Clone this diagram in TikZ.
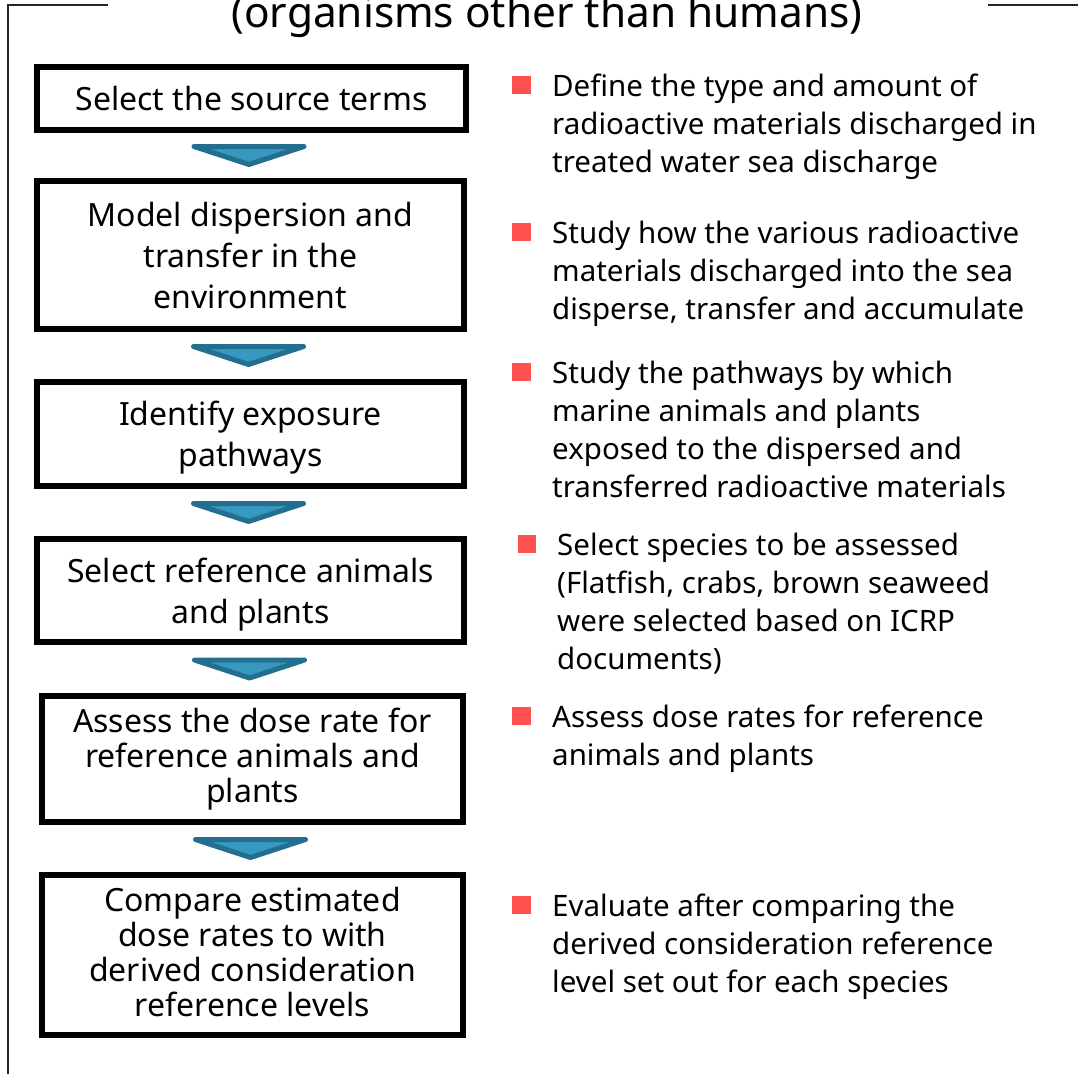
\documentclass[tikz,border=0pt]{standalone}
\usepackage{fontspec}
\setmainfont{Noto Sans}
\usetikzlibrary{calc}
\definecolor{chevfill}{RGB}{55,152,192}
\definecolor{chevline}{RGB}{36,110,143}
\definecolor{bulletred}{RGB}{255,80,80}
\begin{document}
\begin{tikzpicture}[x=1pt,y=-1pt,
  stepbox/.style={draw=black, line width=6.5pt, inner sep=0pt},
  boxtext/.style={inner sep=0pt, align=center, font=\fontsize{32}{41}\selectfont},
  tighttext/.style={boxtext, font=\fontsize{32}{35}\selectfont},
  desc/.style={anchor=base west, inner sep=0pt, font=\fontsize{29.5}{38}\selectfont},
  bullet/.style={fill=bulletred, draw=none, minimum size=18.5pt, inner sep=0pt},
  chev/.style={draw=chevline, fill=chevfill, line width=5pt, line join=round},
  frame/.style={draw=black!85, line width=1.8pt},
  titletext/.style={anchor=base, inner sep=0pt, font=\fontsize{42.4}{50}\selectfont}]
\useasboundingbox (0,0) rectangle (1078,1073);

% frame
\coordinate (fa) at (108,5);
\coordinate (fb) at (8,5);
\coordinate (fc) at (8,1080);
\coordinate (fd) at (988,5);
\coordinate (fe) at (1085,5);
\draw[frame] (fa) -- (fb) -- (fc);
\draw[frame] (fd) -- (fe);

\node[titletext] (title) at (547,28) {(organisms other than humans)};

% boxes
\node[stepbox, minimum width=429pt, minimum height=63pt] (b1) at (251.5,98.5) {};
\node[stepbox, minimum width=427pt, minimum height=148pt] (b2) at (250.5,255) {};
\node[stepbox, minimum width=427pt, minimum height=104pt] (b3) at (250.5,434) {};
\node[stepbox, minimum width=427pt, minimum height=103pt] (b4) at (250.5,590.5) {};
\node[stepbox, minimum width=421pt, minimum height=126pt] (b5) at (252.5,759) {};
\node[stepbox, minimum width=421pt, minimum height=160pt] (b6) at (252.5,955) {};

% box texts
\node[boxtext] (b1t) at ($(b1.center)+(0,4)$)
  {\begin{tabular}{@{}c@{}}Select the source terms\end{tabular}};
\node[boxtext] (b2t) at ($(b2.center)+(0,4)$)
  {\begin{tabular}{@{}c@{}}Model dispersion and\\transfer in the\\environment\end{tabular}};
\node[boxtext] (b3t) at ($(b3.center)+(0,4)$)
  {\begin{tabular}{@{}c@{}}Identify exposure\\pathways\end{tabular}};
\node[boxtext] (b4t) at ($(b4.center)+(0,4)$)
  {\begin{tabular}{@{}c@{}}Select reference animals\\and plants\end{tabular}};
\node[tighttext] (b5t) at ($(b5.center)+(0,1)$)
  {\begin{tabular}{@{}c@{}}Assess the dose rate for\\reference animals and\\plants\end{tabular}};
\node[tighttext] (b6t) at ($(b6.center)+(0,2)$)
  {\begin{tabular}{@{}c@{}}Compare estimated\\dose rates to with\\derived consideration\\reference levels\end{tabular}};

% chevrons between boxes
\foreach \a/\b in {b1/b2,b2/b3,b3/b4,b4/b5,b5/b6}{
  \path[chev] ($(\a.south)!0.5!(\b.north)+(-2,0)$) +(-55,-9) -- +(55,-9) -- +(0,9) -- cycle;
}

% bullets and descriptions
\node[bullet] (q1) at (521.5,85) {};
\node[desc] (t1) at (552,96)
  {\begin{tabular}[t]{@{}l@{}}Define the type and amount of\\radioactive materials discharged in\\treated water sea discharge\end{tabular}};
\node[bullet] (q2) at (521.5,232) {};
\node[desc] (t2) at (552,243)
  {\begin{tabular}[t]{@{}l@{}}Study how the various radioactive\\materials discharged into the sea\\disperse, transfer and accumulate\end{tabular}};
\node[bullet] (q3) at (521.5,372) {};
\node[desc] (t3) at (552,383)
  {\begin{tabular}[t]{@{}l@{}}Study the pathways by which\\marine animals and plants\\exposed to the dispersed and\\transferred radioactive materials\end{tabular}};
\node[bullet] (q4) at (527,544) {};
\node[desc] (t4) at (557,555)
  {\begin{tabular}[t]{@{}l@{}}Select species to be assessed\\(Flatfish, crabs, brown seaweed\\were selected based on ICRP\\documents)\end{tabular}};
\node[bullet] (q5) at (521.5,716) {};
\node[desc] (t5) at (552,727)
  {\begin{tabular}[t]{@{}l@{}}Assess dose rates for reference\\animals and plants\end{tabular}};
\node[bullet] (q6) at (521.5,905) {};
\node[desc] (t6) at (552,916)
  {\begin{tabular}[t]{@{}l@{}}Evaluate after comparing the\\derived consideration reference\\level set out for each species\end{tabular}};
\end{tikzpicture}
\end{document}
